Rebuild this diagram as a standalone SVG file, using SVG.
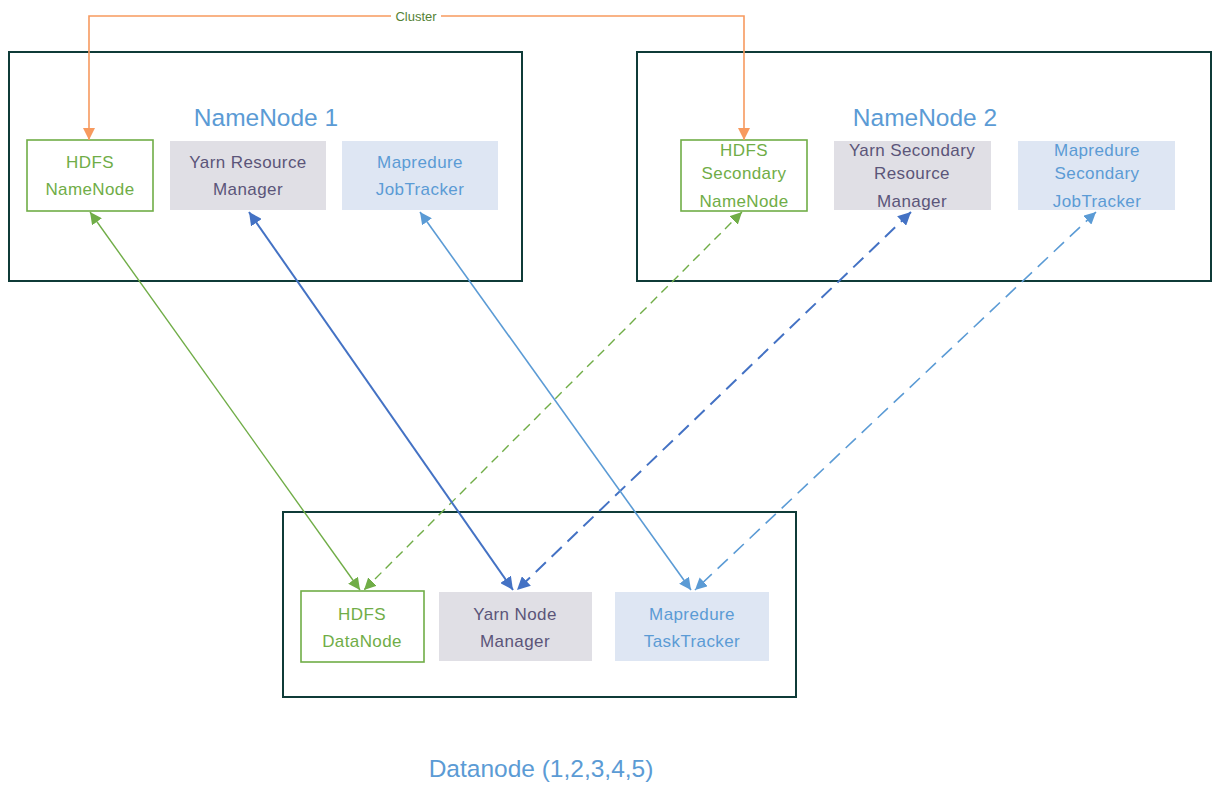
<svg xmlns="http://www.w3.org/2000/svg" width="1222" height="787" viewBox="0 0 1222 787">
  <style>
    .host { fill: #ffffff; stroke: #0f3b38; stroke-width: 2; }
    .title { font-family: "Liberation Sans", Arial, sans-serif; font-size: 24.5px; fill: #5b9bd5; text-anchor: middle; }
    .lbl { font-family: "Liberation Sans", Arial, sans-serif; font-size: 17px; letter-spacing: 0.4px; text-anchor: middle; }
    .hdfs rect { fill: #ffffff; stroke: #70ad47; stroke-width: 1.6; }
    .hdfs text { fill: #70ad47; }
    .yarn rect { fill: #e0dfe5; }
    .yarn text { fill: #5b5579; }
    .mr rect { fill: #dee6f3; }
    .mr text { fill: #5b9bd5; }
    .c { fill: none; }
    .green { stroke: #70ad47; stroke-width: 1.4; }
    .blue { stroke: #4472c4; stroke-width: 2; }
    .lblue { stroke: #5b9bd5; stroke-width: 1.6; }
    .orange { stroke: #f79a5f; stroke-width: 1.6; }
    .dash-g { stroke-dasharray: 9 6; }
    .dash-b { stroke-dasharray: 14 8; }
    .cluster { font-family: "Liberation Sans", Arial, sans-serif; font-size: 13px; fill: #548235; text-anchor: middle; }
  </style>
  <defs>
    <marker id="ah-green" viewBox="0 0 12 12" refX="12" refY="6" markerWidth="12" markerHeight="12" markerUnits="userSpaceOnUse" orient="auto-start-reverse">
      <path d="M0,0 L12,6 L0,12 Z" fill="#70ad47"/>
    </marker>
    <marker id="ah-blue" viewBox="0 0 13 13" refX="13" refY="6.5" markerWidth="13" markerHeight="13" markerUnits="userSpaceOnUse" orient="auto-start-reverse">
      <path d="M0,0 L13,6.5 L0,13 Z" fill="#4472c4"/>
    </marker>
    <marker id="ah-lblue" viewBox="0 0 12 12" refX="12" refY="6" markerWidth="12" markerHeight="12" markerUnits="userSpaceOnUse" orient="auto-start-reverse">
      <path d="M0,0 L12,6 L0,12 Z" fill="#5b9bd5"/>
    </marker>
    <marker id="ah-orange" viewBox="0 0 12 12" refX="12" refY="6" markerWidth="12" markerHeight="12" markerUnits="userSpaceOnUse" orient="auto-start-reverse">
      <path d="M0,0 L12,6 L0,12 Z" fill="#f79a5f"/>
    </marker>
  </defs>

  <rect width="1222" height="787" fill="#ffffff"/>

  <!-- host containers -->
  <g id="namenode1">
    <rect class="host" x="9" y="52" width="513" height="229"/>
    <text class="title" x="266" y="126">NameNode 1</text>
  </g>
  <g id="namenode2">
    <rect class="host" x="637" y="52" width="574" height="229"/>
    <text class="title" x="925" y="126">NameNode 2</text>
  </g>
  <g id="datanode">
    <rect class="host" x="283" y="512" width="513" height="185"/>
  </g>
  <g id="datanode-caption">
    <text class="title" x="541" y="777">Datanode (1,2,3,4,5)</text>
  </g>

  <!-- NameNode 1 services -->
  <g id="hdfs-namenode" class="hdfs">
    <rect x="27" y="140" width="126" height="71"/>
    <text class="lbl" x="90" y="168">HDFS</text>
    <text class="lbl" x="90" y="195">NameNode</text>
  </g>
  <g id="yarn-rm" class="yarn">
    <rect x="170" y="141" width="156" height="69"/>
    <text class="lbl" x="248" y="168">Yarn Resource</text>
    <text class="lbl" x="248" y="195">Manager</text>
  </g>
  <g id="mr-jobtracker" class="mr">
    <rect x="342" y="141" width="156" height="69"/>
    <text class="lbl" x="420" y="168">Mapredure</text>
    <text class="lbl" x="420" y="195">JobTracker</text>
  </g>

  <!-- NameNode 2 services -->
  <g id="hdfs-secondary" class="hdfs">
    <rect x="681" y="140" width="126" height="71"/>
    <text class="lbl" x="744" y="156">HDFS</text>
    <text class="lbl" x="744" y="179">Secondary</text>
    <text class="lbl" x="744" y="207">NameNode</text>
  </g>
  <g id="yarn-secondary" class="yarn">
    <rect x="834" y="141" width="157" height="69"/>
    <text class="lbl" x="912" y="156">Yarn Secondary</text>
    <text class="lbl" x="912" y="179">Resource</text>
    <text class="lbl" x="912" y="207">Manager</text>
  </g>
  <g id="mr-secondary" class="mr">
    <rect x="1018" y="141" width="157" height="69"/>
    <text class="lbl" x="1097" y="156">Mapredure</text>
    <text class="lbl" x="1097" y="179">Secondary</text>
    <text class="lbl" x="1097" y="207">JobTracker</text>
  </g>

  <!-- Datanode services -->
  <g id="hdfs-datanode" class="hdfs">
    <rect x="301" y="591" width="123" height="71"/>
    <text class="lbl" x="362" y="620">HDFS</text>
    <text class="lbl" x="362" y="647">DataNode</text>
  </g>
  <g id="yarn-nm" class="yarn">
    <rect x="439" y="592" width="153" height="69"/>
    <text class="lbl" x="515" y="620">Yarn Node</text>
    <text class="lbl" x="515" y="647">Manager</text>
  </g>
  <g id="mr-tasktracker" class="mr">
    <rect x="615" y="592" width="154" height="69"/>
    <text class="lbl" x="692" y="620">Mapredure</text>
    <text class="lbl" x="692" y="647">TaskTracker</text>
  </g>

  <!-- connectors -->
  <g id="connectors">
    <path class="c orange" d="M89,140 V16 H744 V140" marker-start="url(#ah-orange)" marker-end="url(#ah-orange)"/>
    <rect x="391" y="8" width="50" height="16" fill="#ffffff"/>
    <text class="cluster" x="416" y="21">Cluster</text>

    <path class="c green" d="M90,212 L360,590" marker-start="url(#ah-green)" marker-end="url(#ah-green)"/>
    <path class="c green dash-g" d="M742,212 L364,590" marker-start="url(#ah-green)" marker-end="url(#ah-green)"/>

    <path class="c blue" d="M249,212 L513,590" marker-start="url(#ah-blue)" marker-end="url(#ah-blue)"/>
    <path class="c blue dash-b" d="M911,212 L517,590" marker-start="url(#ah-blue)" marker-end="url(#ah-blue)"/>

    <path class="c lblue" d="M420,212 L691,590" marker-start="url(#ah-lblue)" marker-end="url(#ah-lblue)"/>
    <path class="c lblue dash-b" d="M1096,212 L695,590" marker-start="url(#ah-lblue)" marker-end="url(#ah-lblue)"/>
  </g>
</svg>
